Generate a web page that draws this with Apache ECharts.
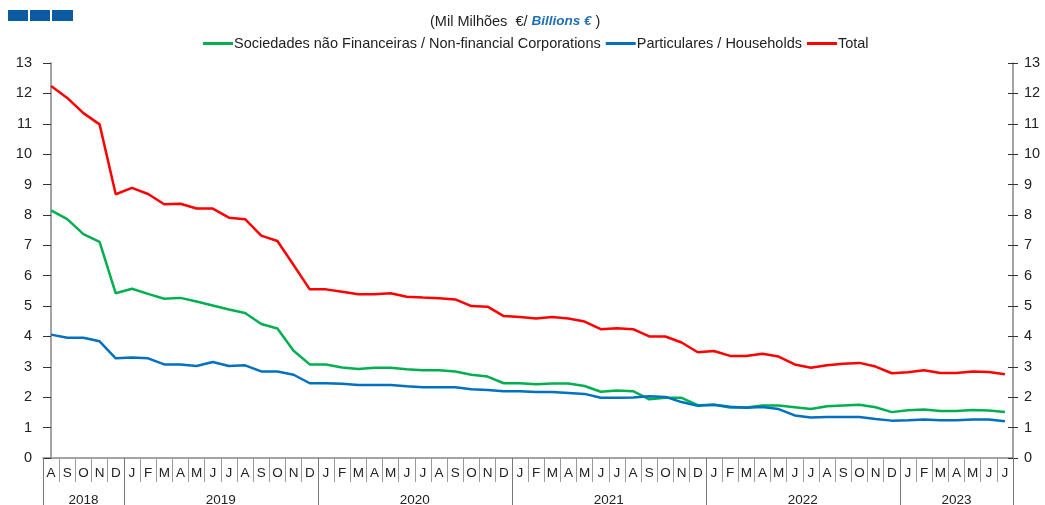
<!DOCTYPE html>
<html>
<head>
<meta charset="utf-8">
<script src="https://cdn.jsdelivr.net/npm/echarts@6/dist/echarts.min.js"></script>
<style>
  html, body { margin: 0; padding: 0; background: #fff; }
  #chart { width: 1045px; height: 505px; }
</style>
</head>
<body>
<div id="chart"></div>
<script>
// month letters, Aug 2018 .. Jul 2023
var months = ['A','S','O','N','D',
  'J','F','M','A','M','J','J','A','S','O','N','D',
  'J','F','M','A','M','J','J','A','S','O','N','D',
  'J','F','M','A','M','J','J','A','S','O','N','D',
  'J','F','M','A','M','J','J','A','S','O','N','D',
  'J','F','M','A','M','J','J'];
var years = ['2018', '2019', '2020', '2021', '2022', '2023'];
var monthsPerYear = [5, 12, 12, 12, 12, 7];

var nfc = [8.15, 7.86, 7.37, 7.11, 5.42,
  5.57, 5.40, 5.24, 5.27, 5.15, 5.02, 4.89, 4.77, 4.41, 4.26, 3.53, 3.08,
  3.08, 2.98, 2.93, 2.97, 2.97, 2.92, 2.89, 2.89, 2.85, 2.74, 2.68, 2.46,
  2.46, 2.43, 2.45, 2.45, 2.37, 2.18, 2.22, 2.20, 1.93, 1.98, 1.98, 1.74,
  1.75, 1.66, 1.66, 1.73, 1.73, 1.67, 1.61, 1.70, 1.73, 1.75, 1.67, 1.51,
  1.57, 1.60, 1.55, 1.55, 1.58, 1.56, 1.51];
var households = [4.06, 3.96, 3.96, 3.84, 3.28,
  3.31, 3.28, 3.08, 3.08, 3.03, 3.16, 3.03, 3.05, 2.85, 2.85, 2.74, 2.46,
  2.46, 2.44, 2.40, 2.40, 2.40, 2.36, 2.33, 2.33, 2.33, 2.26, 2.24, 2.20,
  2.20, 2.17, 2.17, 2.14, 2.11, 1.98, 1.98, 1.99, 2.03, 2.01, 1.84, 1.72,
  1.75, 1.69, 1.65, 1.68, 1.61, 1.40, 1.33, 1.35, 1.35, 1.35, 1.28, 1.23,
  1.24, 1.27, 1.24, 1.24, 1.27, 1.27, 1.21];
var total = [12.24, 11.85, 11.35, 10.98, 8.68,
  8.89, 8.69, 8.35, 8.37, 8.21, 8.21, 7.91, 7.86, 7.32, 7.14, 6.35, 5.55,
  5.55, 5.47, 5.39, 5.39, 5.42, 5.31, 5.28, 5.26, 5.22, 5.00, 4.98, 4.67,
  4.64, 4.59, 4.64, 4.59, 4.49, 4.24, 4.27, 4.24, 4.00, 4.00, 3.80, 3.48,
  3.52, 3.36, 3.36, 3.43, 3.34, 3.08, 2.97, 3.05, 3.10, 3.13, 3.01, 2.79,
  2.82, 2.89, 2.80, 2.80, 2.85, 2.83, 2.76];

// year boundaries and centres on the category index scale
var yearEdges = [-0.5], yearCentres = [], yearByCentre = {};
var pos = -0.5;
for (var i = 0; i < years.length; i++) {
  var c = pos + monthsPerYear[i] / 2;
  yearCentres.push(c);
  yearByCentre[c] = years[i];
  pos += monthsPerYear[i];
  yearEdges.push(pos);
}

var font = 'Liberation Sans, Arial, sans-serif';
var axisColor = '#868686';

var myChart = echarts.init(document.getElementById('chart'));

var yBase = {
  type: 'value', min: 0, max: 13, interval: 1,
  splitLine: { show: false },
  axisLine: { show: true, lineStyle: { color: axisColor, width: 1.5 } },
  axisTick: { show: true, length: 5, lineStyle: { color: '#333' } },
  axisLabel: { color: '#222', fontSize: 14.5, fontFamily: font, margin: 11 }
};
var yInner = {
  type: 'value', min: 0, max: 13, interval: 1,
  splitLine: { show: false },
  axisLine: { show: false },
  axisTick: { show: true, inside: true, length: 5, lineStyle: { color: '#333' } },
  axisLabel: { show: false }
};

var option = {
  animation: false,
  textStyle: { fontFamily: font },
  title: {
    text: '(Mil Milhões  €/ {b|Billions €} )',
    left: 425,
    top: 9,
    textStyle: {
      fontSize: 14.5, fontWeight: 'normal', color: '#222', fontFamily: font,
      rich: { b: { fontSize: 13.5, fontWeight: 'bold', fontStyle: 'italic', color: '#1f6fb5', fontFamily: font } }
    }
  },
  legend: {
    top: 31,
    left: 198,
    icon: 'rect',
    itemWidth: 30,
    itemHeight: 3,
    itemGap: 5,
    textStyle: { fontSize: 14.5, color: '#222', fontFamily: font, padding: [0, 0, 0, -4] },
    data: ['Sociedades não Financeiras / Non-financial Corporations', 'Particulares / Households', 'Total']
  },
  graphic: [
    { type: 'rect', left: 8, top: 10, shape: { width: 20, height: 11 }, style: { fill: '#0b5aa2' } },
    { type: 'rect', left: 30, top: 10, shape: { width: 20, height: 11 }, style: { fill: '#0b5aa2' } },
    { type: 'rect', left: 52, top: 10, shape: { width: 21, height: 11 }, style: { fill: '#0b5aa2' } }
  ],
  grid: { left: 43, right: 32, top: 63, bottom: 47, outerBoundsMode: 'none' },
  xAxis: [
    {
      type: 'category',
      data: months,
      boundaryGap: true,
      axisLine: { show: true, lineStyle: { color: axisColor, width: 1.5 } },
      axisTick: { show: true, interval: 0, length: 24, lineStyle: { color: '#999' } },
      axisLabel: { interval: 0, color: '#222', fontSize: 13.5, fontFamily: font, margin: 8 }
    },
    {
      type: 'value',
      position: 'bottom',
      min: -0.5,
      max: months.length - 0.5,
      splitLine: { show: false },
      axisLine: { show: false },
      axisTick: { show: true, customValues: yearEdges, length: 47, lineStyle: { color: '#777' } },
      axisLabel: {
        customValues: yearCentres, color: '#222', fontSize: 13.5, fontFamily: font, margin: 35,
        formatter: function (v) { return yearByCentre[v] || ''; }
      }
    }
  ],
  yAxis: [
    Object.assign({ position: 'left' }, yBase),
    Object.assign({ position: 'right' }, yBase),
    Object.assign({ position: 'left' }, yInner),
    Object.assign({ position: 'right' }, yInner)
  ],
  series: [
    {
      name: 'Sociedades não Financeiras / Non-financial Corporations',
      type: 'line', data: nfc, symbol: 'none',
      lineStyle: { color: '#00b050', width: 2.5 }, itemStyle: { color: '#00b050' }
    },
    {
      name: 'Particulares / Households',
      type: 'line', data: households, symbol: 'none',
      lineStyle: { color: '#0070c0', width: 2.5 }, itemStyle: { color: '#0070c0' }
    },
    {
      name: 'Total',
      type: 'line', data: total, symbol: 'none',
      lineStyle: { color: '#ff0000', width: 2.5 }, itemStyle: { color: '#ff0000' }
    }
  ]
};

myChart.setOption(option);
</script>
</body>
</html>
